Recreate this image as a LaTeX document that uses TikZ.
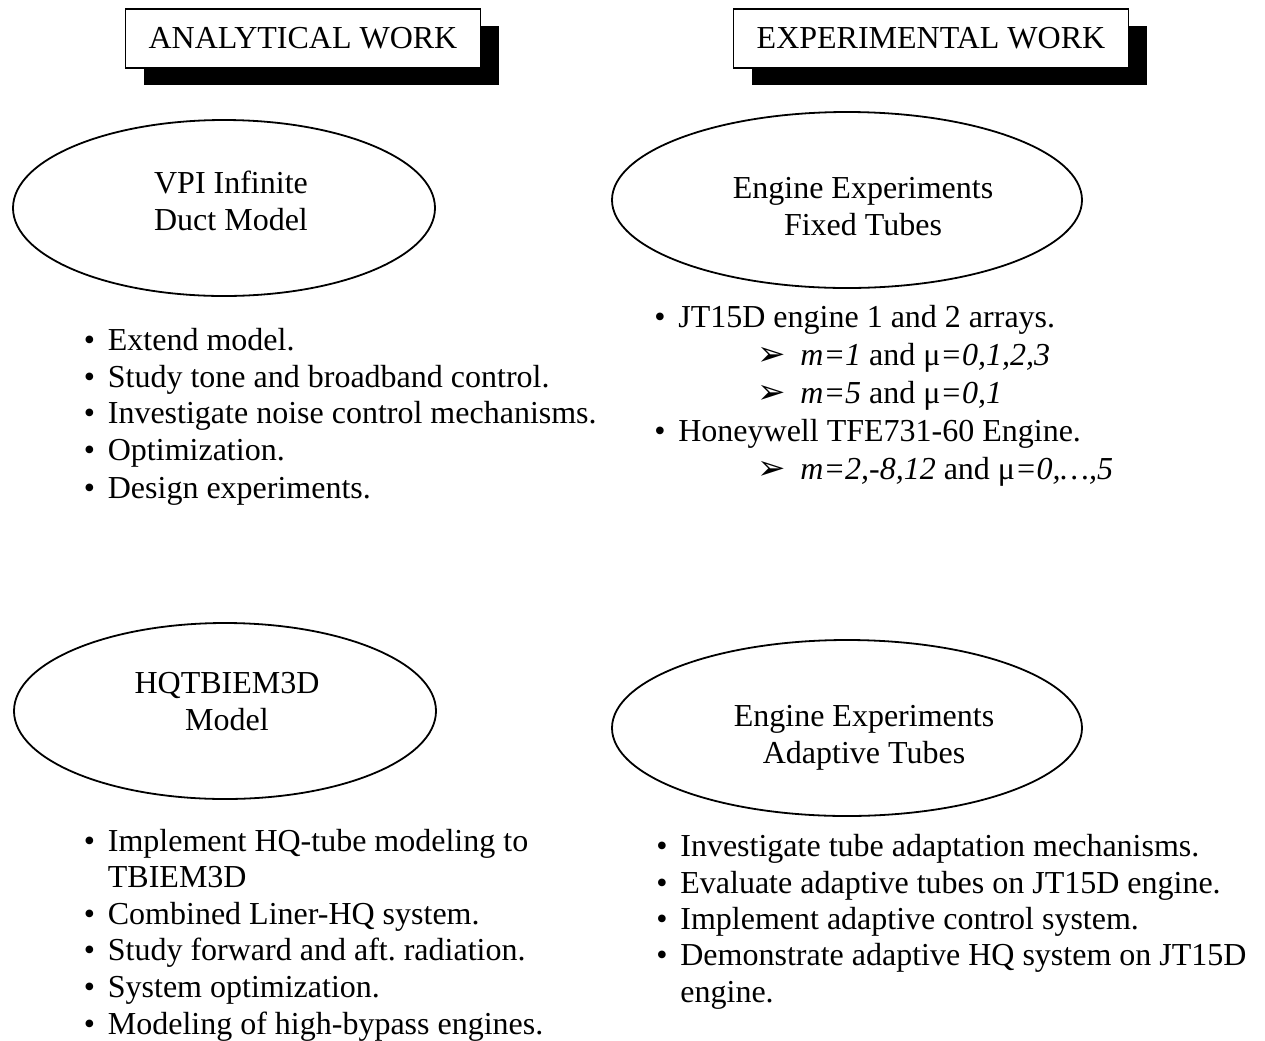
\documentclass[tikz,border=0pt]{standalone}
\usepackage{fontspec}
\setmainfont{Liberation Serif}
\newfontfamily\dingfont{DejaVu Sans}
\usetikzlibrary{shapes.geometric,shadows}
\tikzset{
  head/.style={draw,line width=0.8pt,fill=white,minimum height=29.5pt,inner sep=0pt,
    drop shadow={shadow xshift=9pt,shadow yshift=-8.5pt,fill=black,opacity=1}},
  oval/.style={draw,ellipse,line width=0.9pt,inner sep=0pt,minimum height=88pt},
  item/.style={anchor=base west,inner sep=0pt}
}
\frenchspacing
\newcommand{\bul}{\makebox[12pt][l]{•}}
\newcommand{\arr}{\makebox[21.5pt][l]{\dingfont\fontsize{17}{17}\selectfont ➢}}
\begin{document}
\begin{tikzpicture}[x=0.5pt,y=-0.5pt,font=\fontsize{16}{18.5}\selectfont]
  \useasboundingbox[fill=white] (0,0) rectangle (1265,1040);
  % headings
  \node[head,minimum width=177.5pt] (ana) at (303,38.5) {ANALYTICAL WORK};
  \node[head,minimum width=197.5pt] (exp) at (931,38.5) {EXPERIMENTAL WORK};
  % ovals
  \node[oval,minimum width=211pt] (vpi) at (224,208) {};
  \node[align=center] (vpitext) at (231,201) {VPI Infinite\\Duct Model};
  \node[oval,minimum width=235pt] (fixed) at (847,200) {};
  \node[align=center] (fixedtext) at (863,207) {Engine Experiments\\Fixed Tubes};
  \node[oval,minimum width=211pt] (hq) at (225,711) {};
  \node[align=center] (hqtext) at (227,702) {HQTBIEM3D\\Model};
  \node[oval,minimum width=235pt] (adapt) at (847,728) {};
  \node[align=center] (adapttext) at (864,738) {Engine Experiments\\Adaptive Tubes};
  % analytical, first list
  \node[item] (vpi1) at (83.5,350) {\bul Extend model.};
  \node[item] (vpi2) at (83.5,387) {\bul Study tone and broadband control.};
  \node[item] (vpi3) at (83.5,423) {\bul Investigate noise control mechanisms.};
  \node[item] (vpi4) at (83.5,460) {\bul Optimization.};
  \node[item] (vpi5) at (83.5,498) {\bul Design experiments.};
  % experimental, first list
  \node[item] (jt) at (654,327) {\bul JT15D engine 1 and 2 arrays.};
  \node[item] (jt1) at (757,365) {\arr\textit{m=1} and μ\textit{=0,1,2,3}};
  \node[item] (jt2) at (757,403) {\arr\textit{m=5} and μ\textit{=0,1}};
  \node[item] (hw) at (654,441) {\bul Honeywell TFE731-60 Engine.};
  \node[item] (hw1) at (757,479) {\arr\textit{m=2,-8,12} and μ\textit{=0,…,5}};
  % analytical, second list
  \node[item] (hq1) at (83.5,851) {\bul Implement HQ-tube modeling to};
  \node[item] (hq1b) at (107.5,887) {TBIEM3D};
  \node[item] (hq2) at (83.5,924) {\bul Combined Liner-HQ system.};
  \node[item] (hq3) at (83.5,960) {\bul Study forward and aft. radiation.};
  \node[item] (hq4) at (83.5,997) {\bul System optimization.};
  \node[item] (hq5) at (83.5,1034) {\bul Modeling of high-bypass engines.};
  % experimental, second list
  \node[item] (ad1) at (656,856) {\bul Investigate tube adaptation mechanisms.};
  \node[item] (ad2) at (656,893) {\bul Evaluate adaptive tubes on JT15D engine.};
  \node[item] (ad3) at (656,929) {\bul Implement adaptive control system.};
  \node[item] (ad4) at (656,965) {\bul Demonstrate adaptive HQ system on JT15D};
  \node[item] (ad4b) at (680,1002) {engine.};
\end{tikzpicture}
\end{document}
